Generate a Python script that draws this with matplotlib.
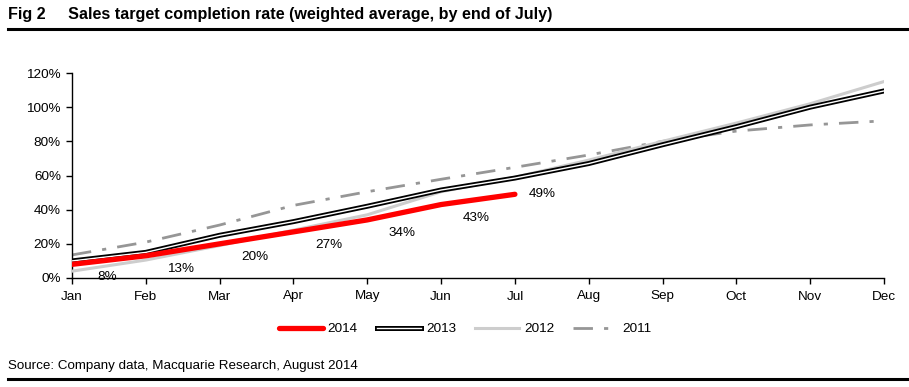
import matplotlib
matplotlib.use("Agg")
import matplotlib.pyplot as plt
import matplotlib.patheffects as pe
from matplotlib.lines import Line2D
import numpy as np

plt.rcParams['font.family'] = ['Liberation Sans', 'DejaVu Sans']

months = ["Jan", "Feb", "Mar", "Apr", "May", "Jun", "Jul", "Aug", "Sep", "Oct", "Nov", "Dec"]
s2014 = [8, 13, 20, 27, 34, 43, 49]
s2013 = [10, 15, 25, 33, 42, 51.5, 58.5, 67, 78, 88.6, 100, 109.5]
s2012 = [4, 10.5, 19, 28, 37, 50.5, 59, 69, 80, 90.7, 102, 115]
s2011 = [13.5, 21, 31, 42.5, 50.5, 57.8, 64.8, 72, 80, 86, 89.6, 92]
yticks = [0, 20, 40, 60, 80, 100, 120]

W, H = 909, 387
fig = plt.figure(figsize=(W / 100, H / 100), dpi=100)
ax = fig.add_axes([72 / W, 1 - 278 / H, (884 - 72) / W, (278 - 73) / H])

x = np.arange(len(months))
ax.plot(x, s2011, color="#969696", lw=2.0, dashes=[7, 4, 1.5, 4], label="2011", zorder=2)
ax.plot(x, s2012, color="#CDCDCD", lw=2.2, label="2012", zorder=3)
ax.plot(x, s2013, color="white", lw=1.0, label="2013", zorder=4,
        path_effects=[pe.Stroke(linewidth=3.6, foreground="black"), pe.Normal()])
ax.plot(x[:len(s2014)], s2014, color="#FF0000", lw=3.8, label="2014", zorder=5,
        solid_capstyle="round")

for i, v in enumerate(s2014):
    if i == len(s2014) - 1:
        ax.annotate(f"{v}%", (x[i], v), xytext=(14, 0), textcoords="offset pixels",
                    ha="left", va="center", fontsize=9.7)
    else:
        ax.annotate(f"{v}%", (x[i], v), xytext=(35, -13), textcoords="offset pixels",
                    ha="center", va="center", fontsize=9.7)

ax.set_xlim(0, 11)
ax.set_ylim(0, 120)
ax.set_xticks(x)
ax.set_xticklabels(months, fontsize=9.7)
ax.set_yticks(yticks)
ax.set_yticklabels([f"{t}%" for t in yticks], fontsize=9.7)
for s in ["top", "right"]:
    ax.spines[s].set_visible(False)
ax.spines["left"].set_linewidth(1.0)
ax.spines["bottom"].set_linewidth(1.0)
ax.tick_params(direction="out", length=4, width=1.0)
ax.tick_params(axis="x", pad=5)
ax.tick_params(axis="y", pad=4)

handles, labels = ax.get_legend_handles_labels()
order = [3, 2, 1, 0]
leg = fig.legend([handles[i] for i in order], [labels[i] for i in order],
                 loc="center", bbox_to_anchor=(465 / W, 1 - 329 / H), ncol=4,
                 frameon=False, fontsize=9.7, handlelength=3.3, columnspacing=1.4,
                 handletextpad=0.35)

fig.text(8 / W, 1 - 14 / H, "Fig 2     Sales target completion rate (weighted average, by end of July)",
         fontsize=11.6, fontweight="bold", ha="left", va="center")
fig.add_artist(Line2D([8 / W, 1.0], [1 - 29 / H, 1 - 29 / H], color="black", lw=2.2))
fig.text(8 / W, 1 - 366 / H, "Source: Company data, Macquarie Research, August 2014",
         fontsize=9.6, ha="left", va="center")
fig.add_artist(Line2D([8 / W, 1.0], [1 - 379 / H, 1 - 379 / H], color="black", lw=2.2))

fig.savefig("out.png", dpi=100)
